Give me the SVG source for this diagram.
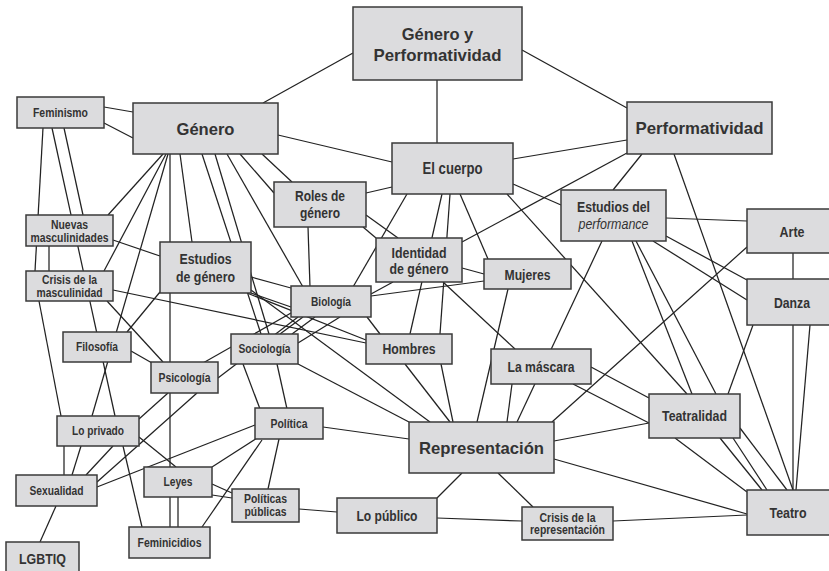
<svg xmlns="http://www.w3.org/2000/svg" width="829" height="571" viewBox="0 0 829 571">
<style>
.bg{fill:#ffffff}
.box{fill:#dcdcde;stroke:#3a3a3a;stroke-width:1.5}
#connectors line{stroke:#222;stroke-width:1.25}
text{font-family:"Liberation Sans",Arial,sans-serif;font-weight:bold;fill:#333;text-anchor:middle}
.s{font-size:12.5px}
.m{font-size:15px}
.l{font-size:16px}
.w{font-size:16.5px}
.i{font-style:italic;font-weight:normal}
</style>
<rect class="bg" x="0" y="0" width="829" height="571"/>
<g id="connectors">
<line x1="353" y1="53" x2="263" y2="103"/>
<line x1="437" y1="80" x2="437" y2="143"/>
<line x1="522" y1="50" x2="627" y2="108"/>
<line x1="104" y1="107" x2="133" y2="112"/>
<line x1="104" y1="123" x2="133" y2="138"/>
<line x1="278" y1="135" x2="392" y2="162"/>
<line x1="513" y1="159" x2="627" y2="140"/>
<line x1="513" y1="184" x2="561" y2="205"/>
<line x1="627" y1="153" x2="462" y2="242"/>
<line x1="642" y1="154" x2="613" y2="190"/>
<line x1="674" y1="154" x2="793" y2="490"/>
<line x1="43" y1="128" x2="35" y2="271"/>
<line x1="49" y1="246" x2="49" y2="271"/>
<line x1="39" y1="301" x2="61" y2="416"/>
<line x1="52" y1="128" x2="115" y2="416"/>
<line x1="64" y1="128" x2="83" y2="215"/>
<line x1="113" y1="290" x2="366" y2="343"/>
<line x1="107" y1="301" x2="163" y2="362"/>
<line x1="113" y1="240" x2="160" y2="256"/>
<line x1="163" y1="154" x2="108" y2="215"/>
<line x1="166" y1="154" x2="104" y2="271"/>
<line x1="168" y1="154" x2="92" y2="416"/>
<line x1="170" y1="154" x2="170" y2="527"/>
<line x1="178" y1="497" x2="178" y2="527"/>
<line x1="180" y1="154" x2="192" y2="242"/>
<line x1="202" y1="154" x2="261" y2="334"/>
<line x1="215" y1="154" x2="269" y2="334"/>
<line x1="227" y1="154" x2="303" y2="287"/>
<line x1="262" y1="154" x2="292" y2="182"/>
<line x1="240" y1="154" x2="274" y2="193"/>
<line x1="366" y1="193" x2="392" y2="187"/>
<line x1="308" y1="227" x2="310" y2="287"/>
<line x1="366" y1="215" x2="398" y2="238"/>
<line x1="363" y1="227" x2="376" y2="238"/>
<line x1="407" y1="194" x2="353" y2="287"/>
<line x1="442" y1="194" x2="410" y2="334"/>
<line x1="450" y1="194" x2="440" y2="334"/>
<line x1="460" y1="194" x2="488" y2="259"/>
<line x1="507" y1="194" x2="687" y2="394"/>
<line x1="462" y1="268" x2="484" y2="274"/>
<line x1="371" y1="296" x2="484" y2="281"/>
<line x1="371" y1="294" x2="393" y2="282"/>
<line x1="443" y1="282" x2="515" y2="349"/>
<line x1="367" y1="317" x2="380" y2="334"/>
<line x1="291" y1="313" x2="203" y2="363"/>
<line x1="298" y1="317" x2="218" y2="378"/>
<line x1="303" y1="317" x2="280" y2="334"/>
<line x1="315" y1="317" x2="292" y2="334"/>
<line x1="251" y1="277" x2="291" y2="288"/>
<line x1="251" y1="293" x2="291" y2="307"/>
<line x1="247" y1="293" x2="366" y2="340"/>
<line x1="251" y1="290" x2="430" y2="422"/>
<line x1="298" y1="364" x2="409" y2="422"/>
<line x1="243" y1="364" x2="260" y2="409"/>
<line x1="277" y1="364" x2="287" y2="409"/>
<line x1="298" y1="343" x2="340" y2="317"/>
<line x1="323" y1="427" x2="409" y2="439"/>
<line x1="255" y1="425" x2="97" y2="487"/>
<line x1="257" y1="438" x2="212" y2="467"/>
<line x1="262" y1="440" x2="202" y2="527"/>
<line x1="279" y1="439" x2="268" y2="489"/>
<line x1="212" y1="484" x2="232" y2="493"/>
<line x1="212" y1="495" x2="232" y2="498"/>
<line x1="299" y1="509" x2="337" y2="512"/>
<line x1="437" y1="518" x2="522" y2="521"/>
<line x1="613" y1="521" x2="747" y2="515"/>
<line x1="462" y1="473" x2="437" y2="498"/>
<line x1="498" y1="473" x2="533" y2="507"/>
<line x1="554" y1="459" x2="747" y2="514"/>
<line x1="554" y1="441" x2="649" y2="423"/>
<line x1="747" y1="247" x2="552" y2="422"/>
<line x1="131" y1="351" x2="152" y2="363"/>
<line x1="127" y1="332" x2="160" y2="292"/>
<line x1="139" y1="437" x2="176" y2="467"/>
<line x1="64" y1="446" x2="64" y2="475"/>
<line x1="81" y1="446" x2="72" y2="475"/>
<line x1="113" y1="446" x2="86" y2="475"/>
<line x1="123" y1="446" x2="142" y2="527"/>
<line x1="168" y1="393" x2="139" y2="419"/>
<line x1="197" y1="393" x2="97" y2="482"/>
<line x1="56" y1="506" x2="40" y2="542"/>
<line x1="508" y1="289" x2="477" y2="422"/>
<line x1="512" y1="384" x2="507" y2="422"/>
<line x1="602" y1="241" x2="517" y2="422"/>
<line x1="405" y1="364" x2="450" y2="422"/>
<line x1="441" y1="364" x2="453" y2="422"/>
<line x1="753" y1="325" x2="728" y2="394"/>
<line x1="793" y1="325" x2="793" y2="490"/>
<line x1="810" y1="325" x2="796" y2="490"/>
<line x1="793" y1="253" x2="793" y2="279"/>
<line x1="666" y1="218" x2="747" y2="221"/>
<line x1="666" y1="236" x2="747" y2="280"/>
<line x1="653" y1="241" x2="747" y2="300"/>
<line x1="632" y1="241" x2="692" y2="394"/>
<line x1="636" y1="241" x2="716" y2="394"/>
<line x1="591" y1="367" x2="649" y2="398"/>
<line x1="573" y1="384" x2="649" y2="423"/>
<line x1="675" y1="438" x2="747" y2="492"/>
<line x1="720" y1="438" x2="762" y2="490"/>
<line x1="733" y1="438" x2="767" y2="490"/>
<line x1="740" y1="428" x2="787" y2="490"/>
</g>
<g id="genero-y-performatividad"><rect class="box" x="353" y="7" width="169" height="73"/><text class="w" x="437.5" y="40">Género y</text><text class="w" x="437.5" y="61" textLength="128" lengthAdjust="spacingAndGlyphs">Performatividad</text></g>
<g id="feminismo"><rect class="box" x="17" y="97" width="87" height="31"/><text class="s" x="60.5" y="117" textLength="55" lengthAdjust="spacingAndGlyphs">Feminismo</text></g>
<g id="genero"><rect class="box" x="133" y="103" width="145" height="51"/><text class="w" x="205.5" y="134.5" textLength="58" lengthAdjust="spacingAndGlyphs">Género</text></g>
<g id="el-cuerpo"><rect class="box" x="392" y="143" width="121" height="51"/><text class="l" x="452.5" y="174" textLength="60" lengthAdjust="spacingAndGlyphs">El cuerpo</text></g>
<g id="performatividad"><rect class="box" x="627" y="102" width="145" height="52"/><text class="w" x="699.5" y="133.5" textLength="128" lengthAdjust="spacingAndGlyphs">Performatividad</text></g>
<g id="roles-de-genero"><rect class="box" x="274" y="182" width="92" height="45"/><text class="m" x="320" y="201" textLength="50" lengthAdjust="spacingAndGlyphs">Roles de</text><text class="m" x="320" y="218" textLength="40" lengthAdjust="spacingAndGlyphs">género</text></g>
<g id="estudios-del-performance"><rect class="box" x="561" y="190" width="105" height="51"/><text class="m" x="613.5" y="212" textLength="73" lengthAdjust="spacingAndGlyphs">Estudios del</text><text class="m i" x="613.5" y="229" textLength="70" lengthAdjust="spacingAndGlyphs">performance</text></g>
<g id="arte"><rect class="box" x="747" y="209" width="92" height="44"/><text class="m" x="792" y="236.5" textLength="25" lengthAdjust="spacingAndGlyphs">Arte</text></g>
<g id="danza"><rect class="box" x="747" y="279" width="92" height="46"/><text class="m" x="792" y="307.5" textLength="36" lengthAdjust="spacingAndGlyphs">Danza</text></g>
<g id="nuevas-masculinidades"><rect class="box" x="26" y="215" width="87" height="31"/><text class="s" x="69.5" y="228.5" textLength="37" lengthAdjust="spacingAndGlyphs">Nuevas</text><text class="s" x="69.5" y="241.5" textLength="78" lengthAdjust="spacingAndGlyphs">masculinidades</text></g>
<g id="crisis-de-la-masculinidad"><rect class="box" x="26" y="271" width="87" height="30"/><text class="s" x="69.5" y="284" textLength="55" lengthAdjust="spacingAndGlyphs">Crisis de la</text><text class="s" x="69.5" y="296.5" textLength="66" lengthAdjust="spacingAndGlyphs">masculinidad</text></g>
<g id="estudios-de-genero"><rect class="box" x="160" y="242" width="91" height="51"/><text class="m" x="205.5" y="264" textLength="52" lengthAdjust="spacingAndGlyphs">Estudios</text><text class="m" x="205.5" y="282" textLength="59" lengthAdjust="spacingAndGlyphs">de género</text></g>
<g id="identidad-de-genero"><rect class="box" x="376" y="238" width="86" height="44"/><text class="m" x="419" y="258" textLength="55" lengthAdjust="spacingAndGlyphs">Identidad</text><text class="m" x="419" y="274" textLength="59" lengthAdjust="spacingAndGlyphs">de género</text></g>
<g id="mujeres"><rect class="box" x="484" y="259" width="87" height="30"/><text class="m" x="527.5" y="279.5" textLength="46" lengthAdjust="spacingAndGlyphs">Mujeres</text></g>
<g id="biologia"><rect class="box" x="291" y="286" width="80" height="31"/><text class="s" x="331" y="306" textLength="40" lengthAdjust="spacingAndGlyphs">Biología</text></g>
<g id="hombres"><rect class="box" x="366" y="334" width="86" height="30"/><text class="m" x="409" y="354.3" textLength="53" lengthAdjust="spacingAndGlyphs">Hombres</text></g>
<g id="filosofia"><rect class="box" x="63" y="332" width="68" height="30"/><text class="s" x="97" y="351.4" textLength="42" lengthAdjust="spacingAndGlyphs">Filosofía</text></g>
<g id="sociologia"><rect class="box" x="231" y="334" width="67" height="30"/><text class="s" x="264.5" y="353.4" textLength="52" lengthAdjust="spacingAndGlyphs">Sociología</text></g>
<g id="psicologia"><rect class="box" x="151" y="362" width="67" height="31"/><text class="s" x="184.5" y="382" textLength="52" lengthAdjust="spacingAndGlyphs">Psicología</text></g>
<g id="la-mascara"><rect class="box" x="491" y="349" width="100" height="35"/><text class="m" x="541" y="371.8" textLength="67" lengthAdjust="spacingAndGlyphs">La máscara</text></g>
<g id="lo-privado"><rect class="box" x="57" y="416" width="82" height="30"/><text class="s" x="98" y="435.4" textLength="52" lengthAdjust="spacingAndGlyphs">Lo privado</text></g>
<g id="politica"><rect class="box" x="255" y="408" width="68" height="31"/><text class="s" x="289" y="428" textLength="37" lengthAdjust="spacingAndGlyphs">Política</text></g>
<g id="representacion"><rect class="box" x="409" y="422" width="145" height="51"/><text class="w" x="481.5" y="453.5" textLength="125" lengthAdjust="spacingAndGlyphs">Representación</text></g>
<g id="teatralidad"><rect class="box" x="649" y="394" width="91" height="44"/><text class="m" x="694.5" y="421.3" textLength="65" lengthAdjust="spacingAndGlyphs">Teatralidad</text></g>
<g id="sexualidad"><rect class="box" x="16" y="475" width="81" height="31"/><text class="s" x="56.5" y="495" textLength="54" lengthAdjust="spacingAndGlyphs">Sexualidad</text></g>
<g id="leyes"><rect class="box" x="144" y="467" width="68" height="30"/><text class="s" x="178" y="486.4" textLength="29" lengthAdjust="spacingAndGlyphs">Leyes</text></g>
<g id="politicas-publicas"><rect class="box" x="232" y="489" width="67" height="33"/><text class="s" x="265.5" y="503" textLength="43" lengthAdjust="spacingAndGlyphs">Políticas</text><text class="s" x="265.5" y="516" textLength="42" lengthAdjust="spacingAndGlyphs">públicas</text></g>
<g id="lo-publico"><rect class="box" x="337" y="498" width="100" height="35"/><text class="m" x="387" y="520.8" textLength="61" lengthAdjust="spacingAndGlyphs">Lo público</text></g>
<g id="crisis-de-la-representacion"><rect class="box" x="522" y="507" width="91" height="33"/><text class="s" x="567.5" y="521.5" textLength="56" lengthAdjust="spacingAndGlyphs">Crisis de la</text><text class="s" x="567.5" y="534" textLength="75" lengthAdjust="spacingAndGlyphs">representación</text></g>
<g id="teatro"><rect class="box" x="747" y="490" width="90" height="45"/><text class="m" x="788" y="518" textLength="37" lengthAdjust="spacingAndGlyphs">Teatro</text></g>
<g id="feminicidios"><rect class="box" x="129" y="527" width="81" height="31"/><text class="s" x="169.5" y="547" textLength="64" lengthAdjust="spacingAndGlyphs">Feminicidios</text></g>
<g id="lgbtiq"><rect class="box" x="6" y="542" width="73" height="40"/><text class="m" x="42.5" y="564" textLength="47" lengthAdjust="spacingAndGlyphs">LGBTIQ</text></g>
</svg>
